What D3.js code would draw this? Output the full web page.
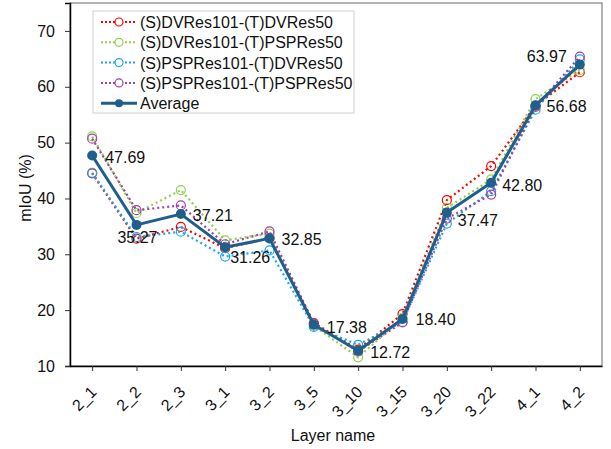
<!DOCTYPE html>
<html>
<head>
<meta charset="utf-8">
<script src="https://d3js.org/d3.v7.min.js"></script>
<style>
  * { margin: 0; padding: 0; }
  body { background: #fff; font-family: "Liberation Sans", Arial, sans-serif; }
  .tick text { font-family: "Liberation Sans", Arial, sans-serif; }
</style>
</head>
<body>
<svg id="chart" width="611" height="449"></svg>
<script>
// data
const layers = ["2_1", "2_2", "2_3", "3_1", "3_2", "3_5", "3_10", "3_15", "3_20", "3_22", "4_1", "4_2"];
const dvDv   = [44.5, 32.8, 34.9, 31.1, 32.9, 17.7, 12.95, 19.3, 39.7, 45.8, 56.6, 62.6];
const dvPsp  = [51.1, 37.4, 41.5, 32.5, 33.7, 17.2, 11.55, 18.6, 38.3, 43.4, 57.8, 63.0];
const pspDv  = [44.6, 33.1, 34.05, 29.6, 30.7, 17.0, 13.8, 17.9, 35.5, 41.3, 55.9, 64.9];
const pspPsp = [50.7, 37.9, 38.75, 31.8, 34.1, 17.6, 12.6, 17.8, 36.4, 40.7, 56.4, 65.4];
const average = [47.69, 35.27, 37.21, 31.26, 32.85, 17.38, 12.72, 18.40, 37.47, 42.80, 56.68, 63.97];
const seriesNames = ["(S)DVRes101-(T)DVRes50", "(S)DVRes101-(T)PSPRes50", "(S)PSPRes101-(T)DVRes50", "(S)PSPRes101-(T)PSPRes50", "Average"];
const yTicks = [10, 20, 30, 40, 50, 60, 70];

const colors = ["#ff0000", "#8fd14f", "#1aa7ec", "#a23ea8"];
const avgColor = "#1f5f8b";

const svg = d3.select("#chart");
const plotLeft = 70, plotRight = 602, plotTop = 3, plotBottom = 366;

const x = d3.scalePoint().domain(layers).range([plotLeft, plotRight]).padding(0.5);
const y = d3.scaleLinear().domain([10, 75]).range([plotBottom, plotTop]);

// frame
svg.append("rect")
  .attr("x", plotLeft).attr("y", plotTop)
  .attr("width", plotRight - plotLeft).attr("height", plotBottom - plotTop)
  .attr("fill", "none").attr("stroke", "#666").attr("stroke-width", 1);

// y axis
const yAxis = svg.append("g")
  .attr("transform", "translate(" + plotLeft + ",0)")
  .call(d3.axisLeft(y).tickValues(yTicks).tickSize(5).tickPadding(10));
yAxis.select(".domain").attr("stroke", "#000").attr("stroke-width", 1.5);
yAxis.selectAll(".tick line").attr("stroke", "#333");
yAxis.selectAll(".tick text").attr("font-size", 16).attr("fill", "#111");

// x axis
const xAxis = svg.append("g")
  .attr("transform", "translate(0," + plotBottom + ")")
  .call(d3.axisBottom(x).tickSize(5).tickSizeOuter(0));
xAxis.select(".domain").attr("stroke", "#000").attr("stroke-width", 1.5);
xAxis.selectAll(".tick line").attr("stroke", "#333");
xAxis.selectAll(".tick text")
  .attr("font-size", 16).attr("fill", "#111")
  .attr("text-anchor", "end")
  .attr("dy", null).attr("y", 0)
  .attr("transform", "translate(5,27) rotate(-45)");

// axis titles
svg.append("text")
  .attr("transform", "translate(31,188) rotate(-90)")
  .attr("text-anchor", "middle")
  .attr("font-size", 16).attr("fill", "#111")
  .text("mIoU (%)");
svg.append("text")
  .attr("x", 333).attr("y", 441)
  .attr("text-anchor", "middle")
  .attr("font-size", 16).attr("fill", "#111")
  .text("Layer name");

const line = d3.line().x((d, i) => x(layers[i])).y(d => y(d));

const dotted = [dvDv, dvPsp, pspDv, pspPsp];
dotted.forEach((vals, k) => {
  svg.append("path")
    .datum(vals)
    .attr("d", line)
    .attr("fill", "none")
    .attr("stroke", colors[k])
    .attr("stroke-width", 2.2)
    .attr("stroke-dasharray", "2 3");
  svg.append("g").selectAll("circle")
    .data(vals).enter().append("circle")
    .attr("cx", (d, i) => x(layers[i]))
    .attr("cy", d => y(d))
    .attr("r", 4.5)
    .attr("fill", "#fff")
    .attr("fill-opacity", 0)
    .attr("stroke", colors[k])
    .attr("stroke-width", 1.2);
});

svg.append("path")
  .datum(average)
  .attr("d", line)
  .attr("fill", "none")
  .attr("stroke", avgColor)
  .attr("stroke-width", 3);
svg.append("g").selectAll("circle")
  .data(average).enter().append("circle")
  .attr("cx", (d, i) => x(layers[i]))
  .attr("cy", d => y(d))
  .attr("r", 5)
  .attr("fill", avgColor);

// data labels for average: [dx, dy, anchor]
const labelPos = [
  [13, 7, "start"], [1, 18, "middle"], [12, 7, "start"], [5, 16, "start"],
  [12, 7, "start"], [13, 8, "start"], [12, 7, "start"], [13, 6, "start"],
  [11, 13, "start"], [11, 8, "start"], [11, 7, "start"], [-13, -3, "end"]
];
svg.append("g").selectAll("text")
  .data(average).enter().append("text")
  .attr("x", (d, i) => x(layers[i]) + labelPos[i][0])
  .attr("y", (d, i) => y(d) + labelPos[i][1])
  .attr("text-anchor", (d, i) => labelPos[i][2])
  .attr("font-size", 16).attr("fill", "#111")
  .text(d => d.toFixed(2));

// legend
const lg = svg.append("g");
lg.append("rect")
  .attr("x", 93).attr("y", 11).attr("width", 261).attr("height", 102)
  .attr("fill", "#fff").attr("stroke", "#d0d0d0").attr("stroke-width", 1);
seriesNames.forEach((name, k) => {
  const yy = 22 + k * 20.3;
  const g = lg.append("g");
  if (k < 4) {
    g.append("line").attr("x1", 101).attr("x2", 137).attr("y1", yy).attr("y2", yy)
      .attr("stroke", colors[k]).attr("stroke-width", 2).attr("stroke-dasharray", "2 2");
    g.append("circle").attr("cx", 119).attr("cy", yy).attr("r", 4)
      .attr("fill", "#fff").attr("stroke", colors[k]).attr("stroke-width", 1.2);
  } else {
    g.append("line").attr("x1", 101).attr("x2", 137).attr("y1", yy).attr("y2", yy)
      .attr("stroke", avgColor).attr("stroke-width", 3);
    g.append("circle").attr("cx", 119).attr("cy", yy).attr("r", 4).attr("fill", avgColor);
  }
  g.append("text").attr("x", 140).attr("y", yy + 6)
    .attr("font-size", 16).attr("fill", "#111").text(name);
});
</script>
</body>
</html>
